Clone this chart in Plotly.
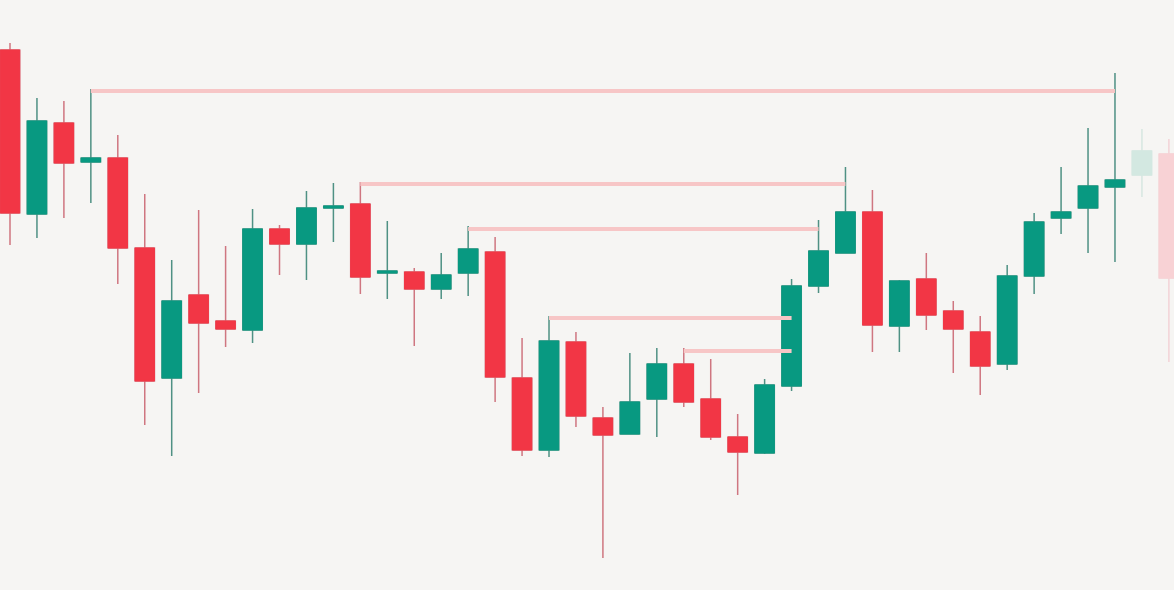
import plotly.graph_objects as go

# Candle data (price units; higher = up)
idx = list(range(44))
opens  = [550, 386, 477, 438, 442, 352, 222, 305, 279, 270, 371, 356, 392, 396, 327, 328, 311, 327, 348, 222, 150, 258, 182, 166, 201, 236, 201, 163, 147, 214, 314, 347, 388, 274, 321, 289, 268, 236, 324, 382, 392, 413, 425, 446]
highs  = [557, 502, 499, 511, 465, 406, 340, 390, 354, 391, 375, 409, 417, 418, 379, 332, 347, 374, 363, 262, 284, 268, 193, 247, 252, 252, 241, 186, 221, 321, 380, 433, 410, 320, 347, 299, 284, 335, 387, 433, 472, 527, 471, 461]
lows   = [355, 362, 382, 397, 316, 175, 144, 207, 253, 257, 325, 320, 358, 306, 301, 254, 301, 304, 198, 144, 143, 173, 42, 166, 163, 193, 160, 105, 146, 209, 307, 347, 248, 248, 270, 227, 205, 230, 306, 366, 347, 338, 403, 238]
closes = [387, 479, 437, 442, 352, 219, 299, 277, 271, 371, 356, 392, 394, 323, 329, 311, 325, 351, 223, 150, 259, 184, 165, 198, 236, 198, 163, 148, 215, 314, 349, 388, 275, 319, 285, 271, 234, 324, 378, 388, 414, 420, 449, 322]
faded = [False] * 42 + [True, True]

# Resistance levels: (start candle, end candle, level)
level_start = [3, 13, 17, 20, 25]
level_end   = [41, 31, 30, 29, 29]
level_value = [509, 416, 371, 282, 249]

UP, DOWN = "#089981", "#f23645"
UP_WICK, DOWN_WICK = "#4f9184", "#cf7680"
UP_FADE, DOWN_FADE = "#d3e8e1", "#f8d2d5"
UP_FADE_WICK, DOWN_FADE_WICK = "#d6e6e1", "#f3d3d6"

fig = go.Figure()

for s, e, v in zip(level_start, level_end, level_value):
    fig.add_trace(go.Scatter(x=[s, e], y=[v, v], mode="lines",
                             line=dict(color="#f7c6c6", width=4),
                             hoverinfo="skip", showlegend=False))

def subset(flag):
    ii = [i for i in idx if faded[i] == flag]
    return (ii, [opens[i] for i in ii], [highs[i] for i in ii],
            [lows[i] for i in ii], [closes[i] for i in ii])

for flag, uc, dc, uw, dw in [(False, UP, DOWN, UP_WICK, DOWN_WICK),
                             (True, UP_FADE, DOWN_FADE, UP_FADE_WICK, DOWN_FADE_WICK)]:
    ii, o, h, l, c = subset(flag)
    # wicks
    fig.add_trace(go.Candlestick(
        x=ii, open=o, high=h, low=l, close=c,
        increasing=dict(line=dict(color=uw, width=1.5), fillcolor=uc),
        decreasing=dict(line=dict(color=dw, width=1.5), fillcolor=dc),
        whiskerwidth=0, showlegend=False, hoverinfo="skip"))
    # bodies on top
    bt = [max(a, b) for a, b in zip(o, c)]
    bb = [min(a, b) for a, b in zip(o, c)]
    fig.add_trace(go.Candlestick(
        x=ii, open=o, high=bt, low=bb, close=c,
        increasing=dict(line=dict(color=uc, width=1), fillcolor=uc),
        decreasing=dict(line=dict(color=dc, width=1), fillcolor=dc),
        whiskerwidth=0, showlegend=False))

fig.update_layout(
    width=1174, height=590,
    margin=dict(l=0, r=0, t=0, b=0),
    paper_bgcolor="#f6f5f3", plot_bgcolor="#f6f5f3",
    boxgap=0.28, boxgroupgap=0,
    showlegend=False,
    xaxis=dict(range=[-0.371, 43.19], visible=False, rangeslider=dict(visible=False),
               fixedrange=True),
    yaxis=dict(range=[10, 600], visible=False, fixedrange=True),
)

fig.write_html("out.html", config={"displayModeBar": False},
               post_script="document.body.style.margin='0';document.body.style.background='#f6f5f3';")
